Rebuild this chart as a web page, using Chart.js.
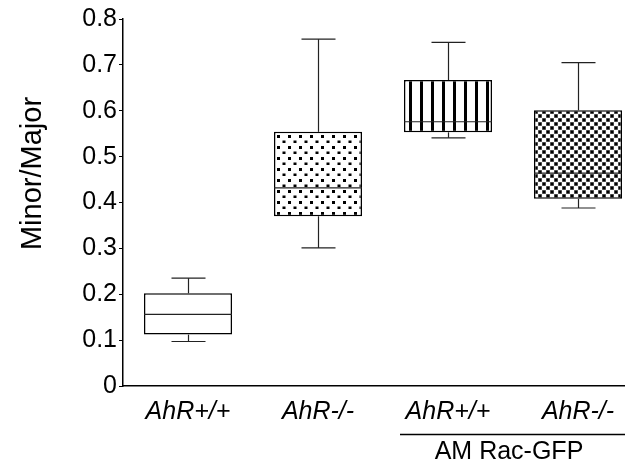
<!DOCTYPE html>
<html>
<head>
<meta charset="utf-8">
<script src="https://cdn.jsdelivr.net/npm/chart.js@4.4.1/dist/chart.umd.min.js"></script>
<style>
  html, body { margin: 0; padding: 0; background: #fff; overflow: hidden; }
  #wrap { width: 625px; height: 466px; overflow: hidden; }
</style>
</head>
<body>
<div id="wrap"><canvas id="chart" width="650" height="466"></canvas></div>
<script>
const categories = ['AhR+/+', 'AhR-/-', 'AhR+/+', 'AhR-/-'];
const whiskerLow = [0.097, 0.301, 0.541, 0.388];
const q1 = [0.112, 0.370, 0.553, 0.408];
const median = [0.156, 0.432, 0.576, 0.464];
const q3 = [0.202, 0.554, 0.667, 0.601];
const whiskerHigh = [0.235, 0.756, 0.749, 0.705];
const yTicks = [0, 0.1, 0.2, 0.3, 0.4, 0.5, 0.6, 0.7, 0.8];
const yTitle = 'Minor/Major';
const groupLabel = 'AM Rac-GFP';

const FONT = "'Liberation Sans', Arial, sans-serif";

function makeTile(w, h, draw) {
  const c = document.createElement('canvas');
  c.width = w; c.height = h;
  const g = c.getContext('2d');
  g.fillStyle = '#fff';
  g.fillRect(0, 0, w, h);
  draw(g);
  return document.createElement('canvas').getContext('2d').createPattern(c, 'repeat');
}

// fills: plain, dots, vertical stripes, checker
const fills = [
  '#fff',
  makeTile(11, 11, g => {
    g.fillStyle = '#000';
    g.fillRect(3, 3, 3, 3);
    g.fillRect(8.5, 8.5, 3, 3); g.fillRect(-2.5, 8.5, 3, 3);
  }),
  makeTile(11, 10, g => { g.fillStyle = '#000'; g.fillRect(5, 0, 3, 10); }),
  makeTile(8, 8, g => {
    g.fillStyle = '#888';
    g.fillRect(0, 0, 4, 4); g.fillRect(4, 4, 4, 4);
    g.fillStyle = '#000';
    g.fillRect(0.5, 0.5, 3, 3); g.fillRect(4.5, 4.5, 3, 3);
  })
];

const boxPlugin = {
  id: 'boxExtras',
  beforeDatasetsDraw(chart) {
    // anchor each pattern to its own box
    const meta = chart.getDatasetMeta(0);
    meta.data.forEach((bar, i) => {
      const f = fills[i];
      if (f instanceof CanvasPattern) {
        f.setTransform(new DOMMatrix().translate(Math.round(bar.x - bar.width / 2), Math.round(bar.y)));
      }
    });
  },
  afterDatasetsDraw(chart) {
    const ctx = chart.ctx;
    const y = chart.scales.y;
    const meta = chart.getDatasetMeta(0);
    ctx.save();
    ctx.strokeStyle = '#222';
    ctx.lineWidth = 1.2;
    meta.data.forEach((bar, i) => {
      const x = Math.round(bar.x) + 0.5;
      const half = bar.width / 2;
      const cap = 17;
      const line = (x1, y1, x2, y2) => {
        ctx.beginPath(); ctx.moveTo(x1, y1); ctx.lineTo(x2, y2); ctx.stroke();
      };
      line(bar.x - half, y.getPixelForValue(median[i]), bar.x + half, y.getPixelForValue(median[i]));
      line(x, y.getPixelForValue(q3[i]), x, y.getPixelForValue(whiskerHigh[i]));
      line(x - cap, y.getPixelForValue(whiskerHigh[i]), x + cap, y.getPixelForValue(whiskerHigh[i]));
      line(x, y.getPixelForValue(q1[i]), x, y.getPixelForValue(whiskerLow[i]));
      line(x - cap, y.getPixelForValue(whiskerLow[i]), x + cap, y.getPixelForValue(whiskerLow[i]));
    });
    ctx.restore();
  },
  afterDraw(chart) {
    const ctx = chart.ctx;
    const xs = chart.scales.x;
    const area = chart.chartArea;
    ctx.save();
    // y axis title
    ctx.fillStyle = '#000';
    ctx.font = '29px ' + FONT;
    ctx.textAlign = 'center';
    ctx.textBaseline = 'middle';
    ctx.translate(33, (area.top + area.bottom) / 2 - 29);
    ctx.rotate(-Math.PI / 2);
    ctx.fillText(yTitle, 0, 0);
    ctx.restore();

    // group bracket under the last two categories
    ctx.save();
    const x2 = xs.getPixelForValue(2);
    const x3 = xs.getPixelForValue(3);
    const ly = area.bottom + 48.5;
    ctx.strokeStyle = '#000';
    ctx.lineWidth = 1.5;
    ctx.beginPath();
    ctx.moveTo(x2 - 48, ly);
    ctx.lineTo(chart.width, ly);
    ctx.stroke();
    ctx.fillStyle = '#000';
    ctx.font = '25px ' + FONT;
    ctx.textAlign = 'center';
    ctx.textBaseline = 'middle';
    ctx.fillText(groupLabel, (x2 + x3) / 2 - 4, ly + 18);
    ctx.restore();
  }
};

new Chart(document.getElementById('chart'), {
  type: 'bar',
  data: {
    labels: categories,
    datasets: [{
      data: q1.map((v, i) => [v, q3[i]]),
      backgroundColor: fills,
      borderColor: '#000',
      borderWidth: 1.5,
      borderSkipped: false,
      barPercentage: 0.677,
      categoryPercentage: 1
    }]
  },
  options: {
    responsive: false,
    animation: false,
    layout: { padding: { left: 0, right: 7, top: 19, bottom: 0 } },
    plugins: { legend: { display: false }, tooltip: { enabled: false } },
    scales: {
      x: {
        grid: { display: false, drawTicks: false },
        border: { display: true, color: '#000', width: 1.5 },
        ticks: { color: '#000', padding: 11, font: { family: FONT, size: 25, style: 'italic' } },
        afterFit: s => { s.height = 80; }
      },
      y: {
        min: 0,
        max: 0.8,
        afterBuildTicks: s => { s.ticks = yTicks.map(v => ({ value: v })); },
        grid: { drawOnChartArea: false, drawTicks: true, tickLength: 4, color: '#000' },
        border: { display: true, color: '#000', width: 1.5 },
        ticks: {
          color: '#000', padding: 2,
          font: { family: FONT, size: 25 },
          callback: v => (v === 0 ? '0' : v.toFixed(1))
        },
        afterFit: s => { s.width = 123; }
      }
    }
  },
  plugins: [boxPlugin]
});
</script>
</body>
</html>
